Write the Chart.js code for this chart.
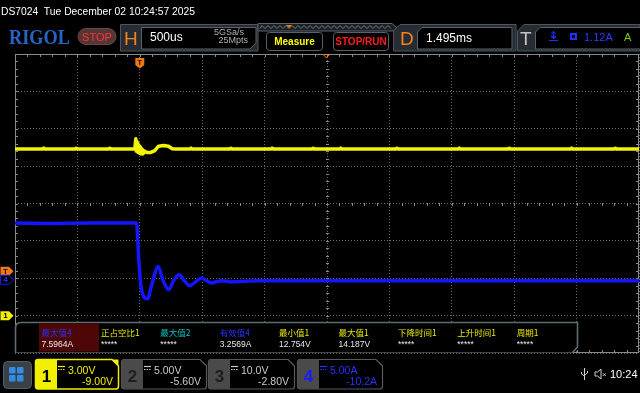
<!DOCTYPE html>
<html><head><meta charset="utf-8">
<script src="https://cdn.jsdelivr.net/npm/chart.js@4.4.0/dist/chart.umd.min.js"></script>
<style>
html,body{margin:0;padding:0;background:#000;width:640px;height:393px;overflow:hidden;}
#wrap{position:relative;width:640px;height:393px;}
#scope{position:absolute;left:0;top:0;}
#chrome{position:absolute;left:0;top:0;pointer-events:none;}
</style></head>
<body><div id="wrap"><canvas id="scope" width="640" height="393"></canvas>
<svg id="chrome" width="640" height="393" font-family="'Liberation Sans', Arial, sans-serif"></svg></div>
<script>
// ---- data ----
// time in ms relative to trigger
const ch1Time  = [-1.00,-0.78,-0.77,-0.76,-0.52,-0.51,-0.50,-0.25,-0.24,-0.23,-0.040,
  -0.032,-0.028,-0.024,-0.020,-0.016,-0.012,-0.008,-0.004,0.000,0.004,0.008,0.012,0.016,0.020,0.024,0.032,0.040,
  0.056,0.088,0.120,0.150,0.190,0.230,0.260,0.290,
  0.40,0.41,0.42,0.72,0.73,0.74,1.05,1.06,1.07,1.38,1.39,1.40,1.60,1.61,1.62,2.05,2.06,2.07,2.55,2.56,2.57,2.95,2.96,2.97,3.45,3.46,3.47,3.80,3.81,3.82,4.00];
const ch1Volts = [13.37,13.37,13.45,13.37,13.37,13.44,13.37,13.37,13.44,13.37,13.37,
  14.19,13.20,14.00,13.15,13.85,13.10,13.70,13.05,13.60,13.00,13.50,13.00,13.40,12.98,13.30,13.05,13.20,
  13.10,13.10,13.25,13.60,13.65,13.60,13.40,13.37,
  13.37,13.45,13.37,13.37,13.44,13.37,13.37,13.45,13.37,13.37,13.44,13.37,13.37,13.45,13.37,13.37,13.44,13.37,13.37,13.45,13.37,13.37,13.44,13.37,13.37,13.45,13.37,13.37,13.44,13.37,13.37];
const ch4Time  = [-1.00,-0.70,-0.40,-0.032,-0.024,-0.008,0.008,0.032,0.062,0.096,0.147,0.184,0.232,0.272,0.315,0.361,0.401,0.449,0.494,0.537,0.577,0.617,0.657,0.737,0.841,0.962,2.00,3.00,4.00];
const ch4Amps  = [7.58,7.54,7.58,7.58,7.30,2.67,-0.67,-2.27,-2.54,-0.67,1.78,0.00,-1.34,-0.10,0.67,-0.20,-0.80,-0.25,0.23,-0.15,-0.44,-0.25,-0.13,-0.29,-0.20,-0.15,-0.15,-0.15,-0.15];
const triggerLevelA = 1.12;
const delayMs = 1.495;
// channel settings (scale per division, offset)
const ch1Setting = ['3.00V','-9.00V'];
const ch2Setting = ['5.00V','-5.60V'];
const ch3Setting = ['10.0V','-2.80V'];
const ch4Setting = ['5.00A','-10.2A'];
const measureLabels = ['最大值4','正占空比1','最大值2','有效值4','最小值1','最大值1','下降时间1','上升时间1','周期1'];
const measureValues = ['7.5964A','*****','*****','3.2569A','12.754V','14.187V','*****','*****','*****'];
const measureChannel = [4,1,2,4,1,1,1,1,1];

const V_PER_DIV = 3, V_OFFSET = -9, A_PER_DIV = 5, A_OFFSET = -10.2;
const T_PER_DIV = 0.5, T_LEFT_DIVS = 2;

function pts(xs, ys){ return xs.map((t,i)=>({x:t, y:ys[i]})); }

const gridStyle = {color:'rgba(140,140,140,0.75)', lineWidth:1, drawTicks:false};

const scopeDecor = {
  id:'scopeDecor',
  beforeDatasetsDraw(chart){
    const {ctx, chartArea:a} = chart;
    const w=a.right-a.left, h=a.bottom-a.top, cx=Math.round((a.left+a.right)/2), cy=Math.round((a.top+a.bottom)/2);
    ctx.save();
    ctx.strokeStyle='#8a8a8a'; ctx.lineWidth=1;
    ctx.strokeRect(a.left+0.5, a.top+0.5, w-1, h-1);
    ctx.beginPath();
    for(let i=1;i<50;i++){ const px=Math.round(a.left+w*i/50)+0.5;
      ctx.moveTo(px,a.top); ctx.lineTo(px,a.top+3);
      ctx.moveTo(px,a.bottom); ctx.lineTo(px,a.bottom-3);
      ctx.moveTo(px,cy-1); ctx.lineTo(px,cy+2); }
    for(let j=1;j<40;j++){ const py=Math.round(a.top+h*j/40)+0.5;
      ctx.moveTo(a.left,py); ctx.lineTo(a.left+3,py);
      ctx.moveTo(a.right,py); ctx.lineTo(a.right-3,py);
      ctx.moveTo(cx-1,py); ctx.lineTo(cx+2,py); }
    ctx.stroke(); ctx.restore();
  },
  afterDraw(chart){
    const {ctx, chartArea:a, scales} = chart;
    const x=scales.x, y1=scales.y1, y4=scales.y4;
    function leftMarker(y, fill, stroke, label, tc){
      ctx.beginPath(); ctx.moveTo(0.5,y-4.5); ctx.lineTo(9,y-4.5); ctx.lineTo(13.5,y); ctx.lineTo(9,y+4.5); ctx.lineTo(0.5,y+4.5); ctx.closePath();
      ctx.fillStyle=fill; ctx.fill();
      if(stroke){ ctx.strokeStyle=stroke; ctx.lineWidth=1; ctx.stroke(); }
      ctx.fillStyle=tc; ctx.font='bold 8px "Liberation Sans", Arial'; ctx.textAlign='center'; ctx.textBaseline='middle';
      ctx.fillText(label,5.5,y+0.5);
    }
    ctx.save();
    leftMarker(y4.getPixelForValue(triggerLevelA), '#f07a10', null, 'T', '#2a1000');
    leftMarker(y4.getPixelForValue(0), '#000', '#1a1aff', '4', '#3030ff');
    leftMarker(y1.getPixelForValue(0), '#f0f000', null, '1', '#000');
    // trigger position marker
    const x0 = x.getPixelForValue(0), t0 = a.top+4;
    ctx.beginPath(); ctx.moveTo(x0-4.5,t0); ctx.lineTo(x0+4.5,t0); ctx.lineTo(x0+4.5,t0+7); ctx.lineTo(x0,t0+10.5); ctx.lineTo(x0-4.5,t0+7); ctx.closePath();
    ctx.fillStyle='#f07a10'; ctx.fill();
    ctx.fillStyle='#2a1000'; ctx.font='bold 8px "Liberation Sans", Arial'; ctx.textAlign='center'; ctx.textBaseline='middle';
    ctx.fillText('T', x0, t0+5);
    // delay marker
    const xc = x.getPixelForValue(delayMs);
    ctx.beginPath(); ctx.moveTo(xc-3,a.top+0.5); ctx.lineTo(xc+3,a.top+0.5); ctx.lineTo(xc,a.top+4); ctx.closePath();
    ctx.strokeStyle='#f07a10'; ctx.lineWidth=1; ctx.stroke();
    ctx.restore();
  }
};

new Chart(document.getElementById('scope'), {
  type:'line',
  data:{ datasets:[
    {data:pts(ch1Time,ch1Volts), yAxisID:'y1', borderColor:'#f4f400', borderWidth:3.5, borderJoinStyle:'round', pointRadius:0, tension:0},
    {data:pts(ch4Time,ch4Amps), yAxisID:'y4', borderColor:'#1414ff', borderWidth:3.5, borderJoinStyle:'round', pointRadius:0, cubicInterpolationMode:'monotone'}
  ]},
  options:{
    responsive:false, animation:false, devicePixelRatio:1,
    layout:{padding:{left:15, right:1, top:54, bottom:40}},
    plugins:{legend:{display:false}, tooltip:{enabled:false}},
    elements:{point:{radius:0}},
    scales:{
      x:{type:'linear', min:-T_LEFT_DIVS*T_PER_DIV, max:(10-T_LEFT_DIVS)*T_PER_DIV, ticks:{display:false, stepSize:T_PER_DIV}, grid:gridStyle, border:{display:false, dash:[1,2]}},
      y1:{type:'linear', position:'left', min:-V_OFFSET-4*V_PER_DIV, max:-V_OFFSET+4*V_PER_DIV, ticks:{display:false, stepSize:V_PER_DIV}, grid:gridStyle, border:{display:false, dash:[1,2]}},
      y4:{type:'linear', position:'right', display:false, min:-A_OFFSET-4*A_PER_DIV, max:-A_OFFSET+4*A_PER_DIV}
    }
  },
  plugins:[scopeDecor]
});

// ---- instrument chrome (SVG) ----
const NS='http://www.w3.org/2000/svg';
const svg=document.getElementById('chrome');
function el(tag, attrs, text){ const e=document.createElementNS(NS,tag); for(const k in attrs) e.setAttribute(k,attrs[k]); if(text!==undefined) e.textContent=text; svg.appendChild(e); return e; }
function txt(x,y,s,size,fill,extra){ return el('text', Object.assign({x:x,y:y,'font-size':size,fill:fill}, extra||{}), s); }

txt(1,14.5,'DS7024  Tue December 02 10:24:57 2025',11.5,'#ffffff',{style:'white-space:pre',textLength:194,lengthAdjust:'spacingAndGlyphs'});
txt(9,44,'RIGOL',20,'#2565c8',{'font-family':"'Liberation Serif', serif",'font-weight':'bold',textLength:61,lengthAdjust:'spacingAndGlyphs'});
el('rect',{x:78,y:28.5,width:38,height:16,rx:8,fill:'#553535',stroke:'#6a4545'});
txt(97,41,'STOP',11,'#ff3535',{'text-anchor':'middle'});
// H frame
el('path',{d:'M120.5,24.5 H258 V51 H120.5 Z',fill:'#262c31',stroke:'#4b565e'});
el('path',{d:'M141.5,27.5 H256 V43 L250,49 H141.5 Z',fill:'#000',stroke:'#56636c'});
txt(124,45,'H',19,'#f5821f');
txt(150,41,'500us',12,'#ffffff');
txt(244,35,'5GSa/s',9,'#b0b0b0',{'text-anchor':'end'});
txt(248,43,'25Mpts',9,'#b0b0b0',{'text-anchor':'end'});
// overview strip
el('path',{d:'M258,23.5 H392 L397,28 L393,31 H258 Z',fill:'#1a1f23',stroke:'#5a656d'});
let zz='M260,28.5'; for(let i=0;i<44;i++){ zz+=' L'+(262+i*3)+','+(i%2?28.5:25.5); }
el('path',{d:zz,fill:'none',stroke:'#8a949a','stroke-width':0.8});
el('path',{d:'M286,25 L292,25 L289,28 Z',fill:'#f07a10'});
// buttons
el('rect',{x:266.5,y:32.5,width:56,height:18,rx:3,fill:'#000',stroke:'#56636c'});
txt(294.5,45,'Measure',10,'#ffff00',{'text-anchor':'middle','font-weight':'bold'});
el('rect',{x:333.5,y:32.5,width:55,height:18,rx:3,fill:'#000',stroke:'#56636c'});
txt(361,45,'STOP/RUN',10,'#ff1c1c',{'text-anchor':'middle','font-weight':'bold'});
// D frame
el('path',{d:'M400,24.5 H516 V51 H393.5 V31 Z',fill:'#262c31',stroke:'#4b565e'});
el('path',{d:'M422,27.5 H512 V49 H417.5 V32 Z',fill:'#000',stroke:'#56636c'});
txt(400,45,'D',19,'#f5821f');
txt(426,41.5,'1.495ms',12,'#ffffff');
// T frame
el('path',{d:'M524,24.5 H640 V51 H517.5 V31 Z',fill:'#262c31',stroke:'#4b565e'});
el('path',{d:'M540,27.5 H641 V49 H535.5 V32 Z',fill:'#000',stroke:'#56636c'});
txt(520,45,'T',19,'#c4c4c4');
el('path',{d:'M551,33 H556 M553.5,31 V38 M551,36 L553.5,38.5 L556,36 M549,40.5 H558',fill:'none',stroke:'#2030ff','stroke-width':1.2});
el('rect',{x:570,y:33,width:7,height:7,fill:'#2030ff'});
el('rect',{x:572,y:35,width:3,height:3,fill:'#000'});
txt(584,40.5,'1.12A',11,'#2a3cff');
txt(624,40.5,'A',11,'#7ccc10');

// measurement panel
el('path',{d:'M15.5,352.5 V328 Q15.5,322.5 21,322.5 H577.5 V347 L572.5,352.5',fill:'#000',stroke:'#5f6b72','stroke-width':1.6});
el('rect',{x:39,y:323.5,width:60,height:28,fill:'#4d0707'});
const chColor={1:'#e8e800',2:'#00c4c4',4:'#2a30ff'};
measureLabels.forEach((s,i)=>{
  const x=41.5+i*59.4;
  txt(x,335.5,s,8.5,chColor[measureChannel[i]],{'font-family':"'Noto Sans CJK SC', sans-serif"});
  txt(x,347,measureValues[i],8.5,'#e8e8e8');
});

// bottom bar
el('rect',{x:3.5,y:361.5,width:28,height:27,rx:4,fill:'#3a4046',stroke:'#555c62'});
[[9,367],[17,367],[9,375],[17,375]].forEach(p=>el('rect',{x:p[0],y:p[1],width:6.5,height:6.5,rx:1,fill:'#2e8ee6'}));
function coupling(x,y,c){ el('path',{d:`M${x},${y} H${x+7}`,stroke:c,'stroke-width':1.2}); el('path',{d:`M${x},${y+3} H${x+7}`,stroke:c,'stroke-width':1,'stroke-dasharray':'1.5,1'}); }
function chBox(x0,x1,num,setting,numBg,numColor,textColor,border,active){
  el('path',{d:`M${x0+0.5},362 Q${x0+0.5},359.5 ${x0+3},359.5 H${x1-7} L${x1-0.5},366 V386 Q${x1-0.5},389 ${x1-3},389 H${x0+3} Q${x0+0.5},389 ${x0+0.5},386 Z`,fill:'#000',stroke:border,'stroke-width':active?1.5:1.2});
  el('path',{d:`M${x0+0.5},362 Q${x0+0.5},359.5 ${x0+3},359.5 H${x0+22} V389 H${x0+3} Q${x0+0.5},389 ${x0+0.5},386 Z`,fill:numBg});
  if(active) el('path',{d:`M${x1-7},359.5 L${x1-0.5},366 V359.5 Z`,fill:border});
  txt(x0+11.5,382,num,17,numColor,{'text-anchor':'middle','font-weight':'bold'});
  coupling(x0+23,366.5,textColor);
  txt(x0+33,373.5,setting[0],10.5,textColor);
  txt(x1-6,384.5,setting[1],10.5,textColor,{'text-anchor':'end'});
}
chBox(35,119,'1',ch1Setting,'#f0f000','#000','#f0f000','#f0f000',true);
chBox(121,207,'2',ch2Setting,'#4a4a4a','#1e1e1e','#c8c8c8','#5a5a5a',false);
chBox(208,295,'3',ch3Setting,'#4a4a4a','#1e1e1e','#c8c8c8','#5a5a5a',false);
chBox(297,383,'4',ch4Setting,'#4a4a4a','#1a1aff','#2a30ff','#5a5a5a',false);
// status icons
el('path',{d:'M584.5,368 V380 M581.5,372 V374 L584.5,376 M587.5,371 V373 L584.5,375',fill:'none',stroke:'#cfcfcf','stroke-width':1});
el('path',{d:'M595,372 H597.5 L601,369 V379 L597.5,376 H595 Z',fill:'none',stroke:'#cfcfcf','stroke-width':1});
txt(602,377,'×',8,'#cfcfcf');
txt(610,378,'10:24',11,'#ffffff');
</script></body></html>
